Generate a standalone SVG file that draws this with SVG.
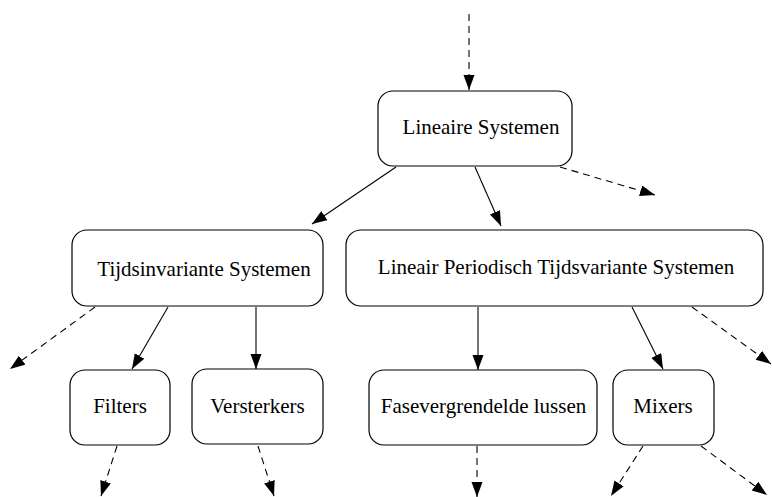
<svg xmlns="http://www.w3.org/2000/svg" width="772" height="497" viewBox="0 0 772 497">
  <style>
    .box { fill: #ffffff; stroke: #000000; stroke-width: 1.2; }
    .lbl { font-family: "Liberation Serif", "Times New Roman", serif; font-size: 21px; fill: #000000; text-anchor: middle; }
    .edge { fill: none; stroke: #000000; stroke-width: 1.1; marker-end: url(#head); }
    .dash { stroke-dasharray: 7 5; }
  </style>
  <defs>
    <marker id="head" markerUnits="userSpaceOnUse" markerWidth="16" markerHeight="12" refX="15" refY="5.5" orient="auto">
      <path d="M0,0 L15,5.5 L0,11 Z" fill="#000000"/>
    </marker>
  </defs>

  <rect width="772" height="497" fill="#ffffff"/>

  <g id="connectors">
    <line class="edge dash" x1="469" y1="14" x2="469" y2="90"/>
    <line class="edge dash" x1="560" y1="167" x2="655" y2="195"/>
    <line class="edge" x1="396" y1="167" x2="312" y2="224"/>
    <line class="edge" x1="475" y1="167" x2="501" y2="226"/>
    <line class="edge dash" x1="95" y1="307" x2="10" y2="369"/>
    <line class="edge" x1="168" y1="307" x2="132" y2="369"/>
    <line class="edge" x1="256" y1="307" x2="256" y2="369"/>
    <line class="edge" x1="478" y1="307" x2="478" y2="370"/>
    <line class="edge" x1="632" y1="307" x2="663" y2="369"/>
    <line class="edge dash" x1="692" y1="307" x2="771" y2="364"/>
    <line class="edge dash" x1="117" y1="446" x2="101" y2="496"/>
    <line class="edge dash" x1="258" y1="446" x2="274" y2="496"/>
    <line class="edge dash" x1="477" y1="446" x2="477" y2="497"/>
    <line class="edge dash" x1="643" y1="446" x2="611" y2="496"/>
    <line class="edge dash" x1="701" y1="446" x2="767" y2="495"/>
  </g>

  <g id="lineaire-systemen">
    <rect class="box" x="378" y="91" width="194" height="75" rx="15"/>
    <text class="lbl" x="481" y="134">Lineaire Systemen</text>
  </g>

  <g id="tijdsinvariante-systemen">
    <rect class="box" x="72" y="230" width="251" height="76" rx="15"/>
    <text class="lbl" x="204" y="276">Tijdsinvariante Systemen</text>
  </g>

  <g id="lptv-systemen">
    <rect class="box" x="346" y="230" width="417" height="76" rx="15"/>
    <text class="lbl" x="556" y="274">Lineair Periodisch Tijdsvariante Systemen</text>
  </g>

  <g id="filters">
    <rect class="box" x="70" y="370" width="100" height="75" rx="15"/>
    <text class="lbl" x="120" y="413">Filters</text>
  </g>

  <g id="versterkers">
    <rect class="box" x="192" y="369" width="131" height="75" rx="15"/>
    <text class="lbl" x="257.5" y="413">Versterkers</text>
  </g>

  <g id="fasevergrendelde-lussen">
    <rect class="box" x="369" y="370" width="228" height="75" rx="15"/>
    <text class="lbl" x="483.5" y="413">Fasevergrendelde lussen</text>
  </g>

  <g id="mixers">
    <rect class="box" x="613" y="370" width="101" height="75" rx="15"/>
    <text class="lbl" x="663" y="413">Mixers</text>
  </g>
</svg>
